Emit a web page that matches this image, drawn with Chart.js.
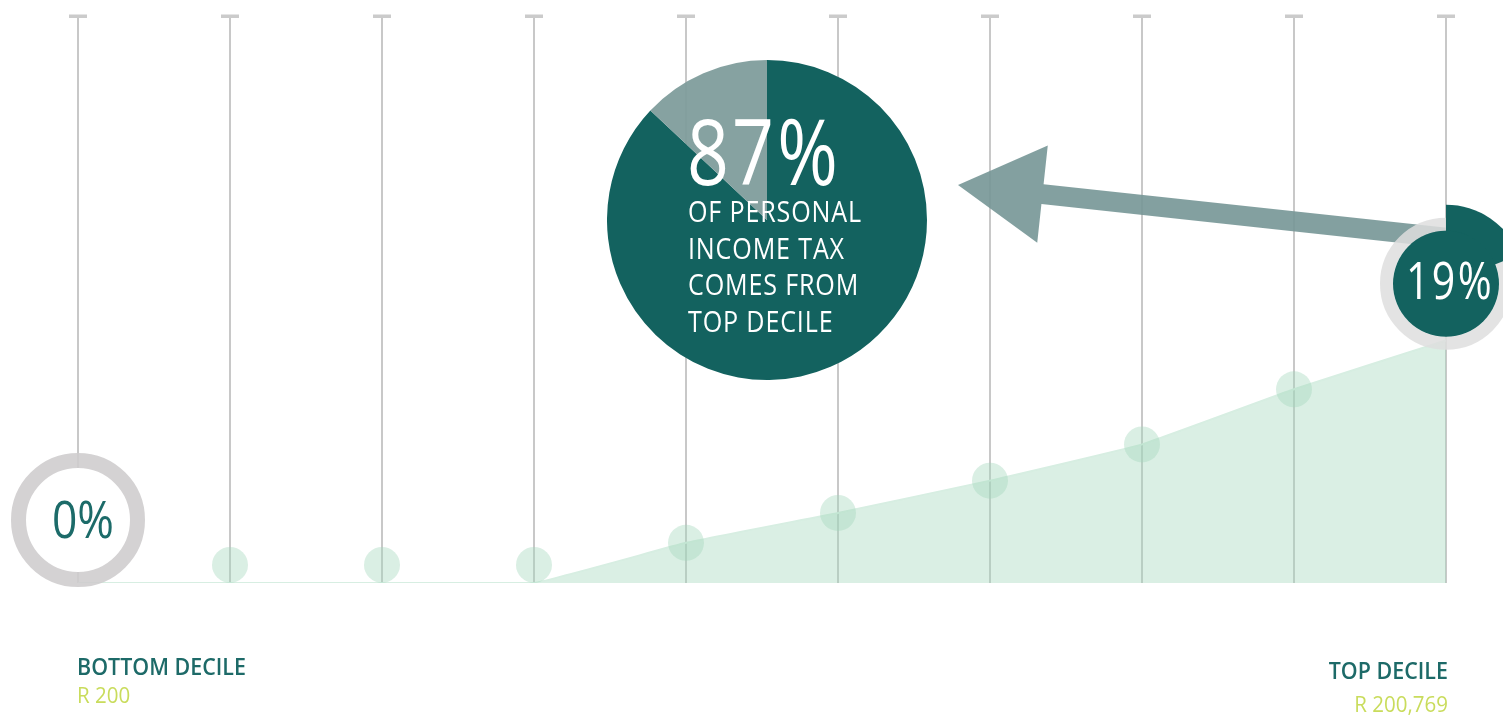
<!DOCTYPE html>
<html>
<head>
<meta charset="utf-8">
<title>Personal income tax by decile</title>
<script src="https://cdn.jsdelivr.net/npm/chart.js@4/dist/chart.umd.min.js"></script>
<style>
  html, body { margin: 0; padding: 0; background: #fff; }
  #wrap { position: relative; width: 1503px; height: 715px; overflow: hidden; }
  #taxChart { position: absolute; left: 0; top: 0; }
  #shareChart { position: absolute; left: 607px; top: 60px; }
</style>
</head>
<body>
<div id="wrap">
  <canvas id="taxChart" width="1503" height="715"></canvas>
  <canvas id="shareChart" width="320" height="320"></canvas>
</div>
<script>
// deciles, bottom (1) to top (10)
const deciles = [1, 2, 3, 4, 5, 6, 7, 8, 9, 10];
// average tax rate per decile, %
const taxRate = [0, 1.15, 1.15, 1.15, 2.55, 4.45, 6.5, 8.8, 12.3, 19];
// shaded tax curve
const taxCurve = [0, 0, 0, 0, 2.55, 4.45, 6.5, 8.8, 12.3, 15.4];
// share of personal income tax: top decile vs the rest
const topShare = [87, 13];
const shareCaption = ['OF PERSONAL', 'INCOME TAX', 'COMES FROM', 'TOP DECILE'];
// end labels
const endNames = ['BOTTOM DECILE', 'TOP DECILE'];
const endIncome = ['R 200', 'R 200,769'];

const FONT = '"Open Sans", "Noto Sans", sans-serif';
const TEAL = '#13625f';

// condensed lettering: squeeze a string horizontally so it spans `width`
function squeezeFor(ctx, text, width) {
  return width / ctx.measureText(text).width;
}
function fillSqueezed(ctx, text, x, y, sx, align) {
  ctx.save();
  ctx.translate(x, y);
  ctx.scale(sx, 1);
  ctx.textAlign = align;
  ctx.fillText(text, 0, 0);
  ctx.restore();
}

function drawArrow(ctx, tip, tail) {
  const dx = tail.x - tip.x, dy = tail.y - tip.y;
  const len = Math.hypot(dx, dy);
  const ux = dx / len, uy = dy / len;
  const nx = -uy, ny = ux;
  const headLen = 85, headHalf = 49, shaftHalf = 10;
  const bx = tip.x + ux * headLen, by = tip.y + uy * headLen;
  ctx.save();
  ctx.fillStyle = 'rgba(118,150,150,0.9)';
  ctx.beginPath();
  ctx.moveTo(tip.x, tip.y);
  ctx.lineTo(bx + nx * headHalf, by + ny * headHalf);
  ctx.lineTo(bx + nx * shaftHalf, by + ny * shaftHalf);
  ctx.lineTo(tail.x + nx * shaftHalf, tail.y + ny * shaftHalf);
  ctx.lineTo(tail.x - nx * shaftHalf, tail.y - ny * shaftHalf);
  ctx.lineTo(bx - nx * shaftHalf, by - ny * shaftHalf);
  ctx.lineTo(bx - nx * headHalf, by - ny * headHalf);
  ctx.closePath();
  ctx.fill();
  ctx.restore();
}

const decorations = {
  id: 'decorations',
  afterDatasetsDraw(chart) {
    const ctx = chart.ctx;
    const xs = chart.scales.x, ys = chart.scales.y;
    const top = chart.chartArea.top;

    // T caps on top of each grid line
    ctx.save();
    ctx.fillStyle = '#cbcbcb';
    deciles.forEach(d => {
      const x = xs.getPixelForValue(d);
      ctx.fillRect(x - 9, top - 1.5, 18, 3.5);
    });
    ctx.restore();

    const last = deciles.length - 1;
    const topX = xs.getPixelForValue(deciles[last]);
    const topY = ys.getPixelForValue(taxRate[last]);

    // arrow from the top decile towards the share pie
    drawArrow(ctx, { x: 958, y: 185 }, { x: topX, y: topY - 46 });

    // bottom decile badge, resting on the baseline
    const bx = xs.getPixelForValue(deciles[0]);
    const by = ys.getPixelForValue(taxRate[0]) - 63;
    ctx.save();
    ctx.fillStyle = '#fff';
    ctx.beginPath();
    ctx.arc(bx, by, 52, 0, Math.PI * 2);
    ctx.fill();
    ctx.strokeStyle = 'rgba(206,204,205,0.88)';
    ctx.lineWidth = 15;
    ctx.beginPath();
    ctx.arc(bx, by, 59.5, 0, Math.PI * 2);
    ctx.stroke();
    ctx.fillStyle = '#1c6b69';
    ctx.font = '52px ' + FONT;
    ctx.textBaseline = 'alphabetic';
    const zero = taxRate[0] + '%';
    fillSqueezed(ctx, zero, bx + 5, by + 18, squeezeFor(ctx, zero, 62), 'center');
    ctx.restore();

    // top decile badge with its rate wedge
    ctx.save();
    ctx.strokeStyle = 'rgba(222,222,222,0.85)';
    ctx.lineWidth = 13;
    ctx.beginPath();
    ctx.arc(topX, topY, 59.5, 0, Math.PI * 2);
    ctx.stroke();
    const start = -Math.PI / 2;
    const end = start + Math.PI * 2 * taxRate[last] / 100;
    ctx.fillStyle = TEAL;
    ctx.beginPath();
    ctx.moveTo(topX, topY);
    ctx.arc(topX, topY, 79, start, end);
    ctx.closePath();
    ctx.fill();
    ctx.beginPath();
    ctx.arc(topX, topY, 53, 0, Math.PI * 2);
    ctx.fill();
    ctx.fillStyle = '#fff';
    ctx.font = '52px ' + FONT;
    ctx.letterSpacing = '3px';
    ctx.textBaseline = 'alphabetic';
    const rate = taxRate[last] + '%';
    fillSqueezed(ctx, rate, topX + 4, topY + 15, squeezeFor(ctx, rate, 88), 'center');
    ctx.restore();

    // end labels under the axis
    ctx.save();
    ctx.textBaseline = 'alphabetic';
    ctx.font = '600 23px ' + FONT;
    const sxName = squeezeFor(ctx, endNames[0], 169);
    ctx.fillStyle = '#1d6a68';
    fillSqueezed(ctx, endNames[0], bx - 1, 675, sxName, 'left');
    fillSqueezed(ctx, endNames[1], topX + 2, 679, sxName, 'right');
    ctx.font = '22px ' + FONT;
    ctx.fillStyle = '#c9dc5c';
    fillSqueezed(ctx, endIncome[0], bx - 1, 703, sxName, 'left');
    fillSqueezed(ctx, endIncome[1], topX + 2, 712, sxName, 'right');
    ctx.restore();
  }
};

new Chart(document.getElementById('taxChart'), {
  type: 'line',
  data: {
    datasets: [
      {
        label: 'Tax curve',
        data: deciles.map((d, i) => ({ x: d, y: taxCurve[i] })),
        fill: 'origin',
        backgroundColor: 'rgba(163,214,187,0.4)',
        borderColor: 'rgba(215,238,226,1)',
        borderWidth: 2,
        pointRadius: 0,
        tension: 0.1,
        order: 2
      },
      {
        label: 'Average tax rate',
        data: deciles.map((d, i) => ({ x: d, y: taxRate[i] })),
        showLine: false,
        pointRadius: c => (c.dataIndex === 0 || c.dataIndex === deciles.length - 1) ? 0 : 18,
        pointBackgroundColor: 'rgba(163,214,187,0.4)',
        pointBorderWidth: 0,
        order: 1
      }
    ]
  },
  options: {
    responsive: false,
    animation: false,
    layout: { padding: { left: 78, right: 57, top: 16, bottom: 132 } },
    plugins: { legend: { display: false }, tooltip: { enabled: false } },
    scales: {
      x: {
        type: 'linear',
        min: 1,
        max: 10,
        ticks: { display: false, stepSize: 1 },
        grid: { color: '#c8c8c8', lineWidth: 2, drawTicks: false },
        border: { display: false },
        afterFit(scale) { scale.height = 0; }
      },
      y: { display: false, min: 0, max: 36 }
    }
  },
  plugins: [decorations]
});

// share pie with its caption
const shareText = {
  id: 'shareText',
  afterDraw(chart) {
    const ctx = chart.ctx;
    ctx.save();
    ctx.fillStyle = '#fff';
    ctx.textBaseline = 'alphabetic';
    ctx.font = '92px ' + FONT;
    ctx.letterSpacing = '4px';
    const big = topShare[0] + '%';
    fillSqueezed(ctx, big, 80, 125, squeezeFor(ctx, big, 154), 'left');
    ctx.font = '30px ' + FONT;
    ctx.letterSpacing = '1px';
    const sx = squeezeFor(ctx, shareCaption[0], 174);
    shareCaption.forEach((line, i) => fillSqueezed(ctx, line, 81, 162 + i * 36.5, sx, 'left'));
    ctx.restore();
  }
};

new Chart(document.getElementById('shareChart'), {
  type: 'pie',
  data: {
    labels: ['Top decile', 'Other deciles'],
    datasets: [{
      data: topShare,
      backgroundColor: [TEAL, 'rgba(128,157,156,0.95)'],
      borderWidth: 0,
      hoverOffset: 0
    }]
  },
  options: {
    responsive: false,
    animation: false,
    plugins: { legend: { display: false }, tooltip: { enabled: false } }
  },
  plugins: [shareText]
});
</script>
</body>
</html>
